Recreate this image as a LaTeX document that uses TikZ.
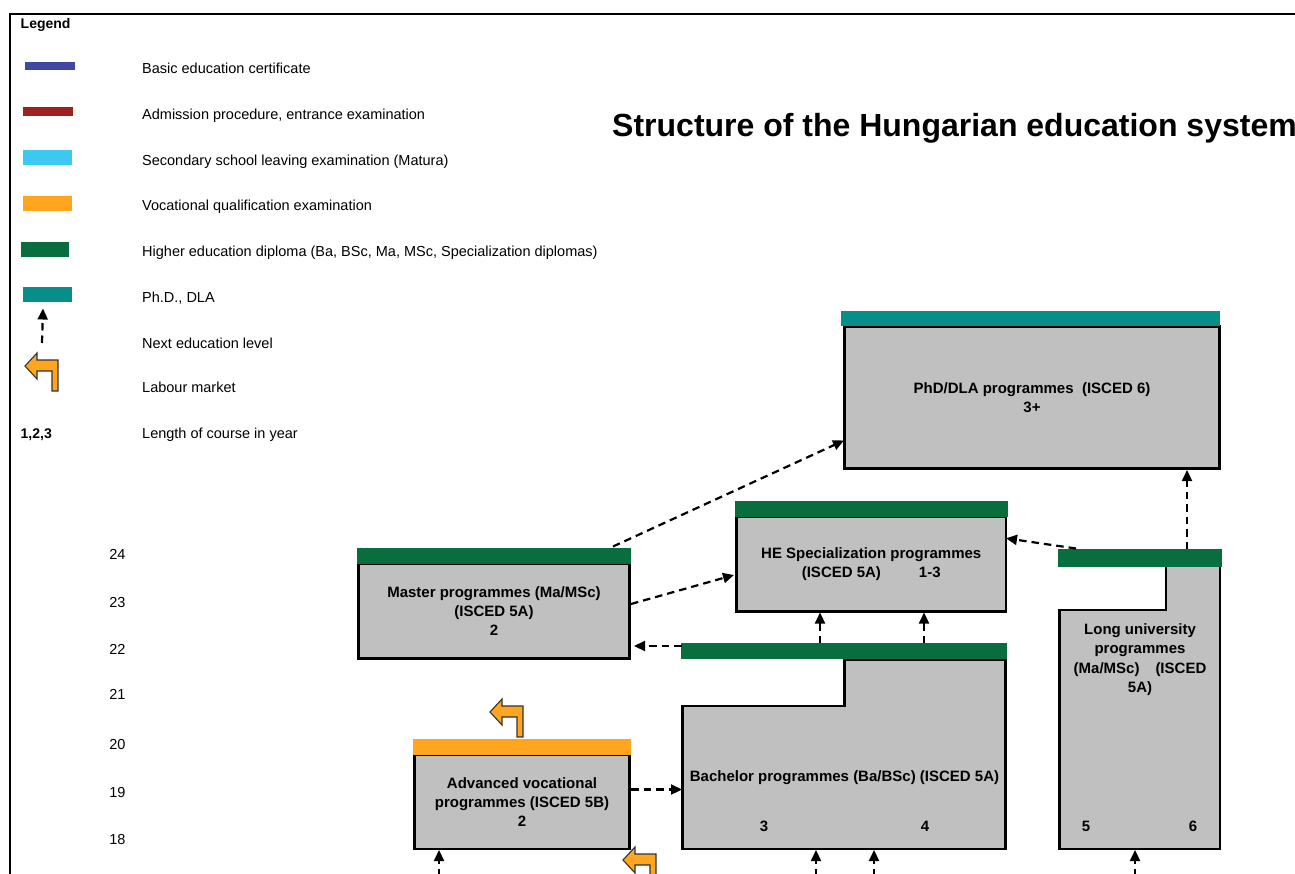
\documentclass[tikz,border=0pt]{standalone}
\usepackage{fontspec}
\setmainfont{Liberation Sans}
\usetikzlibrary{arrows.meta}
\definecolor{lgblue}{RGB}{64,72,160}
\definecolor{lgred}{RGB}{160,32,32}
\definecolor{lglight}{RGB}{60,200,240}
\definecolor{lgorange}{RGB}{255,165,32}
\definecolor{lggreen}{RGB}{8,110,62}
\definecolor{lgteal}{RGB}{8,142,138}
\definecolor{boxgray}{RGB}{192,192,192}
\newcommand\boxfnt{\fontsize{15}{19.3}\selectfont\bfseries}
\newcommand\legfnt{\fontsize{14.5}{17}\selectfont}
\newcommand\legbold{\fontsize{14}{17}\selectfont\bfseries}
\newcommand\titlefnt{\fontsize{32}{36}\selectfont\bfseries}
\tikzset{
  progbox/.style={draw=black, line width=2.6pt, fill=boxgray, inner sep=0pt, align=center, font=\boxfnt},
  progshape/.style={draw=black, line width=2.6pt, fill=boxgray},
  boxtext/.style={inner sep=0pt, align=center, font=\boxfnt},
  legtext/.style={anchor=base west, inner sep=0pt, font=\legfnt},
  agetext/.style={anchor=base, inner sep=0pt, font=\legfnt},
  nextlevel/.style={line width=2.2pt, dash pattern=on 7.5pt off 5pt, -{Triangle[length=11pt,width=10pt]}},
  labourstyle/.style={fill=lgorange, draw=black!80, line width=1.1pt, line join=miter},
  labourarrow/.pic={\draw[labourstyle] (0,0) -- (12,-13) -- (12,-6) -- (33,-6) -- (33,25) -- (27,25) -- (27,5) -- (12,5) -- (12,13) -- cycle;}
}
\begin{document}
\begin{tikzpicture}[x=1pt,y=-1pt]
\useasboundingbox (0,0) rectangle (1295,874);
% frame
\draw[line width=1.8pt] (10.2,874) -- (10.2,14.2) -- (1296,14.2);
% legend
\node[anchor=base west, inner sep=0pt, font=\legbold] (legend) at (20.5,28.3) {Legend};
\fill[lgblue] (25,62) rectangle (75,70.5);
\fill[lgred] (22.5,107.5) rectangle (73,116.5);
\fill[lglight] (23,150) rectangle (72,165.5);
\fill[lgorange] (23,196) rectangle (72,211);
\fill[lggreen] (21,242) rectangle (69,257);
\fill[lgteal] (23,287) rectangle (72,302.5);
\coordinate (lgA) at (42,343);
\coordinate (lgB) at (43,308.5);
\draw[nextlevel] (lgA) -- (lgB);
\pic at (25,366) {labourarrow};
\node[anchor=base west, inner sep=0pt, font=\legbold] (lenkey) at (20.5,438.7) {1,2,3};
\node[legtext] (l1) at (142,74) {Basic education certificate};
\node[legtext] (l2) at (142,119.5) {Admission procedure, entrance examination};
\node[legtext] (l3) at (142,165.2) {Secondary school leaving examination (Matura)};
\node[legtext] (l4) at (142,211) {Vocational qualification examination};
\node[legtext] (l5) at (142,256.7) {Higher education diploma (Ba, BSc, Ma, MSc, Specialization diplomas)};
\node[legtext] (l6) at (142,302.7) {Ph.D., DLA};
\node[legtext] (l7) at (142,348.3) {Next education level};
\node[legtext] (l8) at (142,392.3) {Labour market};
\node[legtext] (l9) at (142,438.7) {Length of course in year};
% title
\node[anchor=base west, inner sep=0pt, font=\titlefnt] (title) at (612,137) {Structure of the Hungarian education system};
% ages
\node[agetext] (a24) at (117.5,559.5) {24};
\node[agetext] (a23) at (117.5,607) {23};
\node[agetext] (a22) at (117.5,654) {22};
\node[agetext] (a21) at (117.5,699) {21};
\node[agetext] (a20) at (117.5,749.5) {20};
\node[agetext] (a19) at (117.5,797) {19};
\node[agetext] (a18) at (117.5,844.5) {18};
% boxes
\node[progbox, minimum width=375.5pt, minimum height=142pt] (phd) at (1032,397.5)
  {PhD/DLA programmes\ \ (ISCED 6)\\3+};
\node[progbox, minimum width=269.5pt, minimum height=94.5pt] (he) at (871.25,564.25)
  {HE Specialization programmes\\(ISCED 5A)\hspace{38pt}1-3};
\node[progbox, minimum width=271pt, minimum height=94.5pt] (master) at (494,611.25)
  {Master programmes (Ma/MSc)\\(ISCED 5A)\\2};
\node[progbox, minimum width=215pt, minimum height=94pt] (adv) at (522,802)
  {Advanced vocational\\programmes (ISCED 5B)\\2};
\draw[progshape] (682.5,706) -- (844.5,706) -- (844.5,659.5) -- (1005.5,659.5) -- (1005.5,849) -- (682.5,849) -- cycle;
\draw[progshape] (1059.5,610) -- (1166,610) -- (1166,566) -- (1220,566) -- (1220,849) -- (1059.5,849) -- cycle;
\node[boxtext] (bach) at (844.5,778) {Bachelor programmes (Ba/BSc) (ISCED 5A)};
\node[boxtext] (b3) at (764,826) {3};
\node[boxtext] (b4) at (925,826) {4};
\node[boxtext] (long) at (1140,659.5) {Long university\\programmes\\(Ma/MSc)\hspace{16pt}(ISCED\\5A)};
\node[boxtext] (l5n) at (1086,826) {5};
\node[boxtext] (l6n) at (1193,826) {6};
% diploma bars
\fill[lgteal] (841,311) rectangle (1219.5,326.5);
\fill[lggreen] (735,500.7) rectangle (1007.7,516.8);
\fill[lggreen] (356.7,548.3) rectangle (630.5,564);
\fill[lggreen] (681,643.3) rectangle (1006.5,659.3);
\fill[lggreen] (1057.7,549.3) rectangle (1221.7,566.5);
\fill[lgorange] (413.3,739) rectangle (630.7,755);
% labour market arrows
\pic at (490,712) {labourarrow};
\pic at (623,860) {labourarrow};
% connector coordinates
\coordinate (mTop) at (613,546.5);
\coordinate (pLeft) at (844,440.5);
\coordinate (mRight) at (631,604);
\coordinate (hLeft) at (734,575);
\coordinate (bBarL) at (681.5,646);
\coordinate (mRight2) at (634,646);
\coordinate (bBar1) at (820,643);
\coordinate (hBot1) at (820,612.5);
\coordinate (bBar2) at (924,643);
\coordinate (hBot2) at (924,612.5);
\coordinate (lBar1) at (1076,548.5);
\coordinate (hRight) at (1006,538.3);
\coordinate (lBar2) at (1187,549);
\coordinate (pBot) at (1187,470);
\coordinate (aRight) at (631,789.5);
\coordinate (bLeft) at (682,789.5);
\coordinate (in1) at (439,876);
\coordinate (aBot) at (439,850);
\coordinate (in2) at (816,876);
\coordinate (bBotA) at (816,850);
\coordinate (in3) at (874,876);
\coordinate (bBotB) at (874,850);
\coordinate (in4) at (1135,876);
\coordinate (lBot) at (1135,850);
% connectors
\draw[nextlevel] (mTop) -- (pLeft);
\draw[nextlevel] (mRight) -- (hLeft);
\draw[nextlevel] (bBarL) -- (mRight2);
\draw[nextlevel] (bBar1) -- (hBot1);
\draw[nextlevel] (bBar2) -- (hBot2);
\draw[nextlevel] (lBar1) -- (hRight);
\draw[nextlevel] (lBar2) -- (pBot);
\draw[nextlevel] (aRight) -- (bLeft);
\draw[nextlevel] (in1) -- (aBot);
\draw[nextlevel] (in2) -- (bBotA);
\draw[nextlevel] (in3) -- (bBotB);
\draw[nextlevel] (in4) -- (lBot);
\end{tikzpicture}
\end{document}
